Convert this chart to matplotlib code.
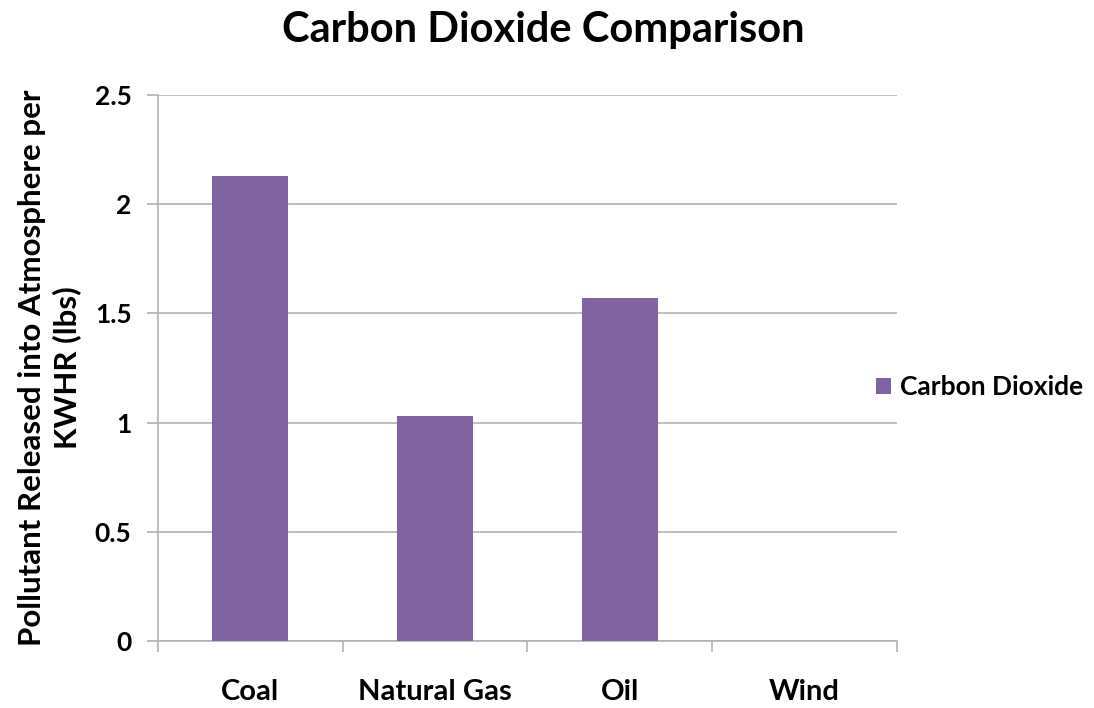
import matplotlib
matplotlib.use("Agg")
import matplotlib.pyplot as plt
from matplotlib.patches import Patch

# chart data
categories = ["Coal", "Natural Gas", "Oil", "Wind"]
co2_values = [2.13, 1.03, 1.57, 0.0]
y_ticks = [0, 0.5, 1, 1.5, 2, 2.5]
y_tick_labels = ["0", "0.5", "1", "1.5", "2", "2.5"]

bar_color = "#8064A2"
grid_color = "#B3B3B3"

plt.rcParams['font.family'] = ['Lato', 'DejaVu Sans']
plt.rcParams['font.weight'] = 'bold'

fig = plt.figure(figsize=(10.94, 7.08), dpi=100)
ax = fig.add_axes([0.1444, 0.0946, 0.6755, 0.7712])

x = list(range(len(categories)))
ax.bar(x, co2_values, width=0.41, color=bar_color, zorder=3)

ax.set_xlim(-0.5, len(categories) - 0.5)
ax.set_ylim(0, 2.5)

# y axis
ax.set_yticks(y_ticks)
ax.set_yticklabels(y_tick_labels, fontsize=19, fontweight='bold')
ax.tick_params(axis='y', length=8, color=grid_color, width=1.2, pad=11)
ax.yaxis.grid(True, color=grid_color, linewidth=1.2, zorder=0)

# x axis, labels centered, ticks at category boundaries
ax.set_xticks(x)
ax.set_xticklabels(categories, fontsize=21, fontweight='bold')
ax.tick_params(axis='x', which='major', length=0, pad=27)
ax.set_xticks([i - 0.5 for i in range(len(categories) + 1)], minor=True)
ax.tick_params(axis='x', which='minor', length=8, color=grid_color, width=1.2)

for side in ['top', 'right']:
    ax.spines[side].set_visible(False)
for side in ['left', 'bottom']:
    ax.spines[side].set_color(grid_color)
    ax.spines[side].set_linewidth(1.2)

ax.set_ylabel("Pollutant Released into Atmosphere per\nKWHR (lbs)",
              fontsize=22.5, fontweight='bold', labelpad=10, linespacing=1.25)

fig.suptitle("Carbon Dioxide Comparison", fontsize=30, fontweight='bold',
             x=0.497, y=0.984)

handles = [Patch(facecolor=bar_color, label="Carbon Dioxide")]
fig.legend(handles=handles, loc='center left', bbox_to_anchor=(0.784, 0.453),
           frameon=False, fontsize=19, handlelength=0.55, handleheight=0.55,
           handletextpad=0.35, borderpad=0.2)

fig.savefig("out.png", dpi=100)
